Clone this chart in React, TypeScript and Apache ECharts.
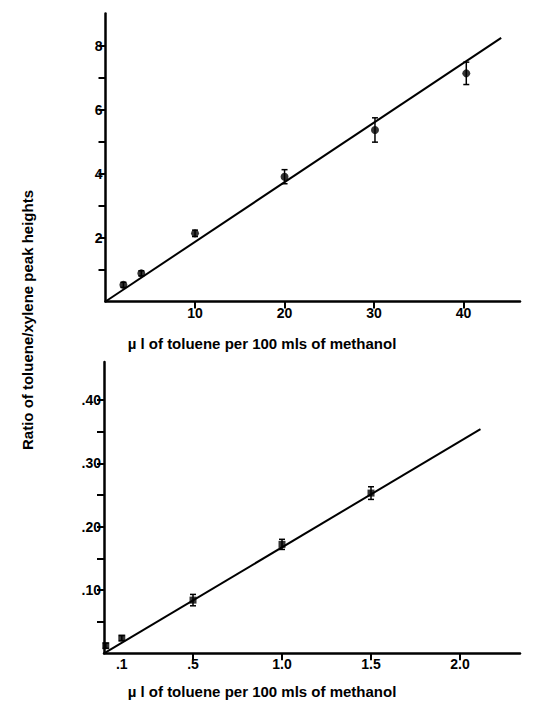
import React, { useEffect, useRef } from "react";
import * as echarts from "echarts";

// Upper panel: µl toluene per 100 ml methanol vs ratio
const topX = [2, 4, 10, 20, 30.1, 40.3];
const topY = [0.52, 0.88, 2.13, 3.9, 5.36, 7.13];
const topErr = [0.08, 0.08, 0.1, 0.22, 0.38, 0.35];
const topFit = [[0, 0], [44.2, 8.24]];
const topXTicks = [10, 20, 30, 40];
const topYTicks = [1, 2, 3, 4, 5, 6, 7, 8];
const topYLabels = [2, 4, 6, 8];

// Lower panel
const botX = [0.01, 0.1, 0.5, 1.0, 1.5];
const botY = [0.012, 0.024, 0.084, 0.172, 0.253];
const botErr = [0.004, 0.004, 0.009, 0.008, 0.01];
const botFit = [[0, 0], [2.115, 0.354]];
const botXTicks = [0.5, 1.0, 1.5, 2.0];
const botXLabels = [0.1, 0.5, 1.0, 1.5, 2.0];
const botYTicks = [0.05, 0.1, 0.15, 0.2, 0.25, 0.3, 0.35, 0.4];
const botYLabels = [0.1, 0.2, 0.3, 0.4];

const xTitle = "µ l of toluene per 100 mls of methanol";
const yTitle = "Ratio of toluene/xylene peak heights";

const FONT = "'Liberation Sans', Arial, sans-serif";

export default function App() {
  const ref = useRef<HTMLDivElement>(null);
  useEffect(() => {
    document.body.style.margin = "0";
    const chart = echarts.init(ref.current!, null, { renderer: "svg" });
    const axisLine = { show: true, onZero: false, lineStyle: { color: "#000", width: 2.5 } };
    const axisTick = (vals: number[]) => ({
      show: true,
      length: 7,
      customValues: vals,
      lineStyle: { color: "#000", width: 2 },
    });
    const labelStyle = { color: "#000", fontFamily: FONT, fontWeight: "bold" as const, fontSize: 14 };
    const errRender = (params: any, api: any) => {
      const x = api.value(0), y = api.value(1), e = api.value(2);
      const t = api.coord([x, y + e]);
      const b = api.coord([x, y - e]);
      const c = 3;
      const st = { stroke: "#000", lineWidth: 1.5 };
      return {
        type: "group",
        children: [
          { type: "line", shape: { x1: t[0], y1: t[1], x2: b[0], y2: b[1] }, style: st },
          { type: "line", shape: { x1: t[0] - c, y1: t[1], x2: t[0] + c, y2: t[1] }, style: st },
          { type: "line", shape: { x1: b[0] - c, y1: b[1], x2: b[0] + c, y2: b[1] }, style: st },
        ],
      };
    };
    const fmtBotX = (v: number) => (v < 1 ? "." + Math.round(v * 10) : v.toFixed(1));
    const fmtBotY = (v: number) => "." + Math.round(v * 100);

    chart.setOption({
      animation: false,
      backgroundColor: "#fff",
      grid: [
        { left: 105.5, top: 13.5, width: 414.5, height: 288 },
        { left: 104, top: 362, width: 416, height: 291.3 },
      ],
      xAxis: [
        {
          gridIndex: 0, type: "value", min: 0, max: 46.3,
          axisLine, axisTick: axisTick(topXTicks), splitLine: { show: false },
          axisLabel: { ...labelStyle, margin: 4, customValues: topXTicks },
        },
        {
          gridIndex: 1, type: "value", min: 0, max: 2.337,
          axisLine, axisTick: axisTick(botXTicks), splitLine: { show: false },
          axisLabel: { ...labelStyle, margin: 4, customValues: botXLabels, formatter: fmtBotX },
        },
      ],
      yAxis: [
        {
          gridIndex: 0, type: "value", min: 0, max: 9,
          axisLine, axisTick: axisTick(topYTicks), splitLine: { show: false },
          axisLabel: { ...labelStyle, margin: 3, customValues: topYLabels },
        },
        {
          gridIndex: 1, type: "value", min: 0, max: 0.46,
          axisLine, axisTick: axisTick(botYTicks), splitLine: { show: false },
          axisLabel: { ...labelStyle, margin: 3, customValues: botYLabels, formatter: fmtBotY },
        },
      ],
      series: [
        {
          type: "line", xAxisIndex: 0, yAxisIndex: 0, data: topFit, symbol: "none",
          lineStyle: { color: "#000", width: 2 }, silent: true,
        },
        {
          type: "scatter", xAxisIndex: 0, yAxisIndex: 0, symbol: "circle", symbolSize: 8,
          itemStyle: { color: "#000" }, data: topX.map((x, i) => [x, topY[i]]),
        },
        {
          type: "custom", xAxisIndex: 0, yAxisIndex: 0, renderItem: errRender,
          encode: { x: 0, y: 1 }, data: topX.map((x, i) => [x, topY[i], topErr[i]]),
        },
        {
          type: "line", xAxisIndex: 1, yAxisIndex: 1, data: botFit, symbol: "none",
          lineStyle: { color: "#000", width: 2 }, silent: true,
        },
        {
          type: "scatter", xAxisIndex: 1, yAxisIndex: 1, symbol: "rect", symbolSize: 7,
          itemStyle: { color: "#000" }, data: botX.map((x, i) => [x, botY[i]]),
        },
        {
          type: "custom", xAxisIndex: 1, yAxisIndex: 1, renderItem: errRender,
          encode: { x: 0, y: 1 }, data: botX.map((x, i) => [x, botY[i], botErr[i]]),
        },
      ],
      graphic: [
        {
          type: "text", x: 262, y: 343,
          style: { text: xTitle, font: `bold 15px ${FONT}`, fill: "#000", align: "center", verticalAlign: "middle" },
        },
        {
          type: "text", x: 262, y: 691,
          style: { text: xTitle, font: `bold 15px ${FONT}`, fill: "#000", align: "center", verticalAlign: "middle" },
        },
        {
          type: "text", x: 27, y: 320, rotation: Math.PI / 2,
          style: { text: yTitle, font: `bold 15px ${FONT}`, fill: "#000", align: "center", verticalAlign: "middle" },
        },
      ],
    });
    return () => chart.dispose();
  }, []);
  return <div ref={ref} style={{ width: 535, height: 704 }} />;
}
